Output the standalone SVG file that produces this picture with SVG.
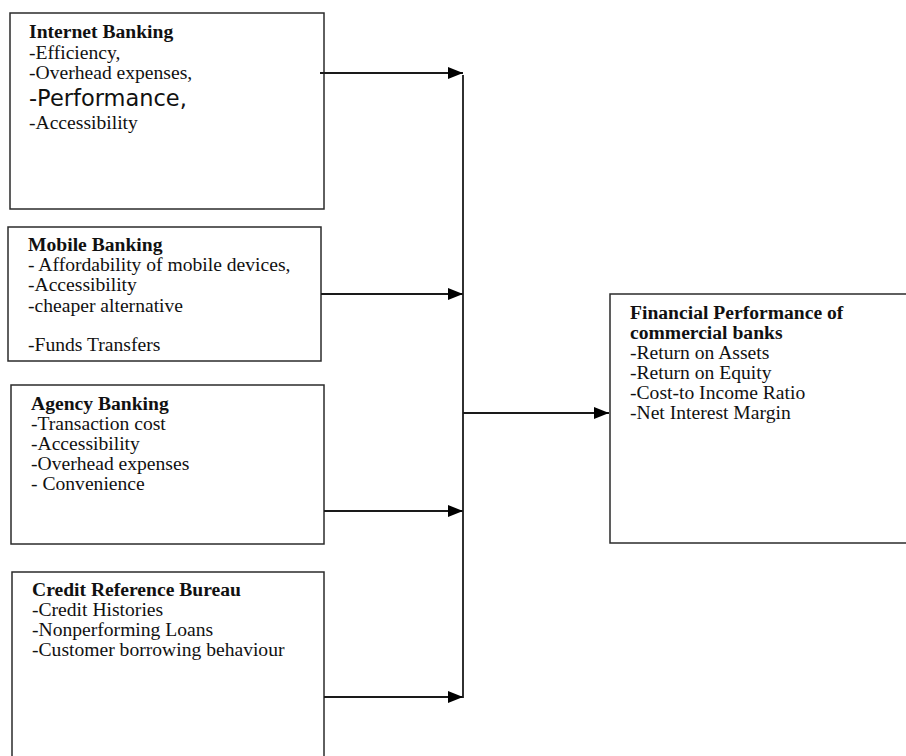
<svg xmlns="http://www.w3.org/2000/svg" width="906" height="756" viewBox="0 0 906 756">
<style>
.box{fill:#fff;stroke:#2b2b2b;stroke-width:1.5}
.t{font-family:"Liberation Serif","Times New Roman",serif;font-size:19.6px;fill:#111}
.b{font-weight:bold}
.s{font-family:"DejaVu Sans",Verdana,sans-serif;font-size:22.5px;fill:#111}
.c{stroke:#1a1a1a;stroke-width:1.8;fill:none}
</style>
<defs>
<marker id="ah" viewBox="0 0 10 10" refX="10" refY="5" markerWidth="15" markerHeight="12" markerUnits="userSpaceOnUse" orient="auto" preserveAspectRatio="none">
<path d="M0,0 L10,5 L0,10 z" fill="#000"/>
</marker>
</defs>
<rect width="906" height="756" fill="#fff"/>
<g id="internet-banking">
<rect class="box" x="10" y="13" width="314" height="196"/>
<text class="t b" x="29" y="38">Internet Banking</text>
<text class="t" x="29" y="59">-Efficiency,</text>
<text class="t" x="29" y="79">-Overhead expenses,</text>
<text class="s" x="29" y="106">-Performance,</text>
<text class="t" x="29" y="129">-Accessibility</text>
</g>
<g id="mobile-banking">
<rect class="box" x="8" y="227" width="313" height="134"/>
<text class="t b" x="28" y="251">Mobile Banking</text>
<text class="t" x="28" y="271">- Affordability of mobile devices,</text>
<text class="t" x="28" y="291">-Accessibility</text>
<text class="t" x="28" y="312">-cheaper alternative</text>
<text class="t" x="28" y="351">-Funds Transfers</text>
</g>
<g id="agency-banking">
<rect class="box" x="11" y="385" width="313" height="159"/>
<text class="t b" x="31" y="410">Agency Banking</text>
<text class="t" x="31" y="430">-Transaction cost</text>
<text class="t" x="31" y="450">-Accessibility</text>
<text class="t" x="31" y="470">-Overhead expenses</text>
<text class="t" x="31" y="490">- Convenience</text>
</g>
<g id="credit-reference-bureau">
<rect class="box" x="12" y="572" width="312" height="200"/>
<text class="t b" x="32" y="596">Credit Reference Bureau</text>
<text class="t" x="32" y="616">-Credit Histories</text>
<text class="t" x="32" y="636">-Nonperforming Loans</text>
<text class="t" x="32" y="656">-Customer borrowing behaviour</text>
</g>
<g id="financial-performance">
<rect class="box" x="610" y="294" width="310" height="249"/>
<text class="t b" x="630" y="319">Financial Performance of</text>
<text class="t b" x="630" y="339">commercial banks</text>
<text class="t" x="630" y="359">-Return on Assets</text>
<text class="t" x="630" y="379">-Return on Equity</text>
<text class="t" x="630" y="399">-Cost-to Income Ratio</text>
<text class="t" x="630" y="419">-Net Interest Margin</text>
</g>
<g id="connectors">
<line class="c" x1="320" y1="73" x2="463" y2="73" marker-end="url(#ah)"/>
<line class="c" x1="321" y1="294" x2="463" y2="294" marker-end="url(#ah)"/>
<line class="c" x1="324" y1="511" x2="463" y2="511" marker-end="url(#ah)"/>
<line class="c" x1="324" y1="697" x2="463" y2="697" marker-end="url(#ah)"/>
<line class="c" x1="463" y1="75" x2="463" y2="698"/>
<line class="c" x1="463" y1="413" x2="609" y2="413" marker-end="url(#ah)"/>
</g>
</svg>
